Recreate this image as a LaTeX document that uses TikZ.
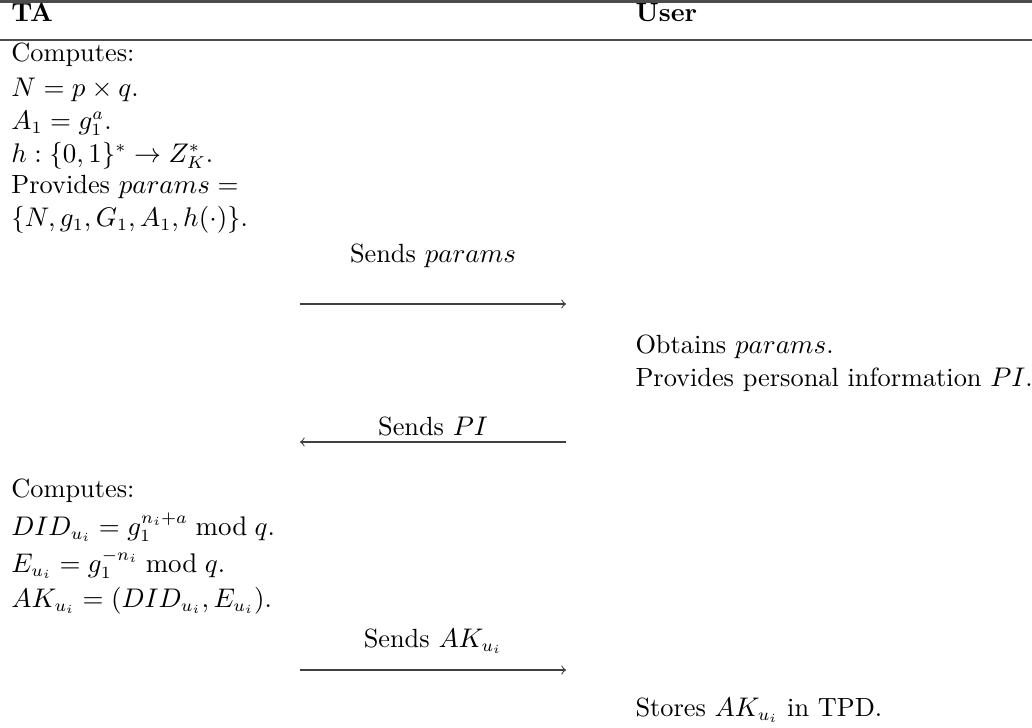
\documentclass[tikz,border=0pt]{standalone}
\usepackage{amsmath}
\begin{document}
\begin{tikzpicture}[x=0.4065pt,y=-0.4065pt,
  txt/.style={anchor=base west,inner sep=0pt,font=\fontsize{10.7}{12.8}\selectfont},
  lbl/.style={anchor=base,inner sep=0pt,font=\fontsize{10.7}{12.8}\selectfont},
  msg/.style={draw=black!75,line width=0.45pt,-to}]
\useasboundingbox (0,0) rectangle (1032,727);
% rules
\coordinate (t0) at (0,1.5);
\coordinate (t1) at (1032,1.5);
\coordinate (m0) at (0,40);
\coordinate (m1) at (1032,40);
\draw[black!70,line width=1pt] (t0) -- (t1);
\draw[black!70,line width=0.6pt] (m0) -- (m1);
% headers
\node[txt] (hta) at (11,21) {\textbf{TA}};
\node[txt] (hus) at (635,21) {\textbf{User}};
% TA block 1
\node[txt] (c1) at (11,61) {Computes:};
\node[txt] (n1) at (11,96) {$N = p \times q$.};
\node[txt] (a1) at (11,129) {$A_1 = g_1^a$.};
\node[txt] (h1) at (11,162) {$h:\{0,1\}^{*}\rightarrow Z_K^{*}$.};
\node[txt] (p1) at (11,193) {Provides $params=$};
\node[txt] (p2) at (11,226) {$\{N, g_1, G_1, A_1, h(\cdot)\}$.};
% message 1
\coordinate (s1a) at (300,304);
\coordinate (s1b) at (566,304);
\node[lbl] (l1) at (433,262) {Sends $params$};
\draw[msg] (s1a) -- (s1b);
% User block
\node[txt] (o1) at (635,353) {Obtains $params$.};
\node[txt] (o2) at (635,386) {Provides personal information $PI$.};
% message 2
\coordinate (s2a) at (566,442);
\coordinate (s2b) at (300,442);
\node[lbl] (l2) at (433,435) {Sends $PI$};
\draw[msg] (s2a) -- (s2b);
% TA block 2
\node[txt] (c2) at (11,497) {Computes:};
\node[txt] (d1) at (11,535) {$DID_{u_i} = g_1^{n_i+a} \bmod q$.};
\node[txt] (e1) at (11,572) {$E_{u_i} = g_1^{-n_i} \bmod q$.};
\node[txt] (k1) at (11,607) {$AK_{u_i} = (DID_{u_i}, E_{u_i})$.};
% message 3
\coordinate (s3a) at (300,670);
\coordinate (s3b) at (566,670);
\node[lbl] (l3) at (433,647) {Sends $AK_{u_i}$};
\draw[msg] (s3a) -- (s3b);
% store
\node[txt] (st) at (635,716) {Stores $AK_{u_i}$ in TPD.};
\end{tikzpicture}
\end{document}
